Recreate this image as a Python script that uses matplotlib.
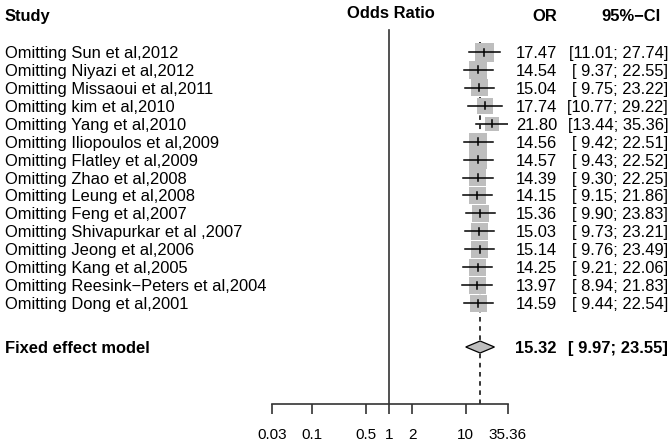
import matplotlib
matplotlib.use("Agg")
import matplotlib.pyplot as plt
from matplotlib.transforms import blended_transform_factory

plt.rcParams['font.family'] = ['Liberation Sans', 'DejaVu Sans']

# leave-one-out data
studies = ["Omitting Sun et al,2012", "Omitting Niyazi et al,2012", "Omitting Missaoui et al,2011",
           "Omitting kim et al,2010", "Omitting Yang et al,2010", "Omitting Iliopoulos et al,2009",
           "Omitting Flatley et al,2009", "Omitting Zhao et al,2008", "Omitting Leung et al,2008",
           "Omitting Feng et al,2007", "Omitting Shivapurkar et al ,2007", "Omitting Jeong et al,2006",
           "Omitting Kang et al,2005", "Omitting Reesink\u2212Peters et al,2004", "Omitting Dong et al,2001"]
odds = [17.47, 14.54, 15.04, 17.74, 21.80, 14.56, 14.57, 14.39, 14.15, 15.36, 15.03, 15.14, 14.25, 13.97, 14.59]
lower = [11.01, 9.37, 9.75, 10.77, 13.44, 9.42, 9.43, 9.30, 9.15, 9.90, 9.73, 9.76, 9.21, 8.94, 9.44]
upper = [27.74, 22.55, 23.22, 29.22, 35.36, 22.51, 22.52, 22.25, 21.86, 23.83, 23.21, 23.49, 22.06, 21.83, 22.54]
box_px = [19, 18, 17, 16, 14, 18, 18, 17, 17, 17, 17, 17, 17, 17, 17]

fixed_or, fixed_lo, fixed_hi = 15.32, 9.97, 23.55
tick_vals = [0.03, 0.1, 0.5, 1, 2, 10, 35.36]
tick_labels = ["0.03", "0.1", "0.5", "1", "2", "10", "35.36"]

W, H = 672, 445
fig = plt.figure(figsize=(W / 100, H / 100), dpi=100)
axis_y = 404
ax = fig.add_axes([272 / W, (H - axis_y) / H, (508 - 272) / W, axis_y / H])
ax.set_xscale("log")
ax.set_xlim(0.03, 35.36)
ax.set_ylim(axis_y, 0)
for s in ["top", "right", "left"]:
    ax.spines[s].set_visible(False)
ax.spines["bottom"].set_linewidth(1.2)
ax.spines["bottom"].set_color("#333333")
ax.set_yticks([])
ax.set_xticks(tick_vals)
ax.set_xticklabels(tick_labels)
ax.minorticks_off()
ax.tick_params(axis="x", direction="out", length=7.2, width=1.2, color="#333333",
               labelsize=11, pad=10)

row0, step = 52, 17.93
rows = [row0 + i * step for i in range(len(studies))]
fixed_y = 347

# reference lines
ax.plot([1, 1], [30, axis_y], color="#333333", lw=1.2, zorder=1)
ax.plot([fixed_or, fixed_or], [42, axis_y], color="black", lw=1.1,
        dashes=(3, 3), zorder=1)

# squares, CI lines, estimate ticks
ax.scatter(odds, rows, s=[(b * 0.72) ** 2 for b in box_px], marker="s",
           color="#BEBEBE", linewidths=0, zorder=2)
for y, o, lo, hi in zip(rows, odds, lower, upper):
    ax.plot([lo, hi], [y, y], color="black", lw=1.1, zorder=3)
    ax.plot([o, o], [y - 3.5, y + 3.5], color="black", lw=1.1, zorder=3)

# summary diamond
ax.fill([fixed_lo, fixed_or, fixed_hi, fixed_or], [fixed_y, fixed_y - 6, fixed_y, fixed_y + 6],
        facecolor="#BEBEBE", edgecolor="black", lw=0.9, zorder=3)

# text columns
tr = blended_transform_factory(fig.transFigure, ax.transData)
fs = 11.85
kw = dict(transform=tr, va="center_baseline", fontsize=fs, clip_on=False)
ax.text(5 / W, 15, "Study", fontweight="bold", ha="left", **kw)
ax.text(391 / W, 12, "Odds Ratio", fontweight="bold", ha="center", **kw)
ax.text(557 / W, 15, "OR", fontweight="bold", ha="right", **kw)
ax.text(661 / W, 15, "95%\u2212CI", fontweight="bold", ha="right", **kw)

for y, name, o, lo, hi in zip(rows, studies, odds, lower, upper):
    ax.text(5 / W, y, name, ha="left", **kw)
    ax.text(557 / W, y, "%.2f" % o, ha="right", **kw)
    ax.text(668 / W, y, "[%5.2f; %5.2f]" % (lo, hi), ha="right", **kw)

ax.text(5 / W, fixed_y, "Fixed effect model", fontweight="bold", ha="left", **kw)
ax.text(557 / W, fixed_y, "%.2f" % fixed_or, fontweight="bold", ha="right", **kw)
ax.text(668 / W, fixed_y, "[%5.2f; %5.2f]" % (fixed_lo, fixed_hi), fontweight="bold",
        ha="right", **kw)

fig.savefig("out.png", dpi=100)
